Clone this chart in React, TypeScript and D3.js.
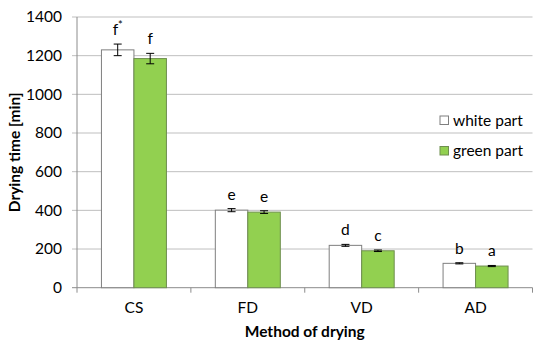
import React from 'react';
import * as d3 from 'd3';

const methods = ['CS', 'FD', 'VD', 'AD'];
const seriesNames = ['white part', 'green part'];
const whiteValues = [1230, 401, 219, 126];
const whiteErrors = [30, 8, 5, 3];
const greenValues = [1185, 391, 191, 112];
const greenErrors = [27, 7, 4, 3];
const whiteLetters = ['f*', 'e', 'd', 'b'];
const greenLetters = ['f', 'e', 'c', 'a'];
const yTicks = [0, 200, 400, 600, 800, 1000, 1200, 1400];

const font = 'Lato, "Open Sans", sans-serif';
const fills = ['#ffffff', '#92d050'];
const strokes = ['#7f7f7f', '#6f8f4f'];

const App = () => {
  const width = 550;
  const height = 351;
  const margin = { top: 17, right: 18, bottom: 63, left: 77 };
  const innerW = 532.5 - margin.left;

  const x = d3.scaleBand<string>()
    .domain(methods)
    .range([margin.left, margin.left + innerW])
    .paddingInner(0)
    .paddingOuter(0);

  const y = d3.scaleLinear()
    .domain([0, 1400])
    .range([287.7, margin.top]);

  const barW = 32.5;
  const offset = (x.bandwidth() - 2 * barW) / 2;

  const series = [
    { values: whiteValues, errors: whiteErrors, letters: whiteLetters },
    { values: greenValues, errors: greenErrors, letters: greenLetters },
  ];

  const x0 = margin.left;
  const x1 = margin.left + innerW;
  const bottom = y(0);

  return (
    <svg width={width} height={height} style={{ position: 'absolute', left: 0, top: 0, background: '#fff' }}>
      {/* gridlines and y ticks */}
      {yTicks.map(t => (
        <g key={t}>
          <line x1={x0 - 5} x2={x1} y1={y(t)} y2={y(t)}
            stroke={t === 0 ? '#8c8c8c' : '#bfbfbf'} strokeWidth={1} />
          <text x={x0 - 15} y={y(t)} dy="0.35em" textAnchor="end"
            fontFamily={font} fontSize={15.5} fill="#000">{t}</text>
        </g>
      ))}
      {/* y axis */}
      <line x1={x0} x2={x0} y1={y(1400)} y2={bottom} stroke="#8c8c8c" />
      {/* x ticks */}
      {[...methods.map(m => x(m) as number), x1].map((p, i) => (
        <line key={i} x1={p} x2={p} y1={bottom} y2={bottom + 5} stroke="#8c8c8c" />
      ))}

      {/* bars */}
      {series.map((s, si) => (
        <g key={si}>
          {methods.map((m, i) => {
            const bx = (x(m) as number) + offset + si * barW;
            const cx = bx + barW / 2;
            const v = s.values[i];
            const e = s.errors[i];
            return (
              <g key={m}>
                <rect x={bx} y={y(v)} width={barW} height={bottom - y(v)}
                  fill={fills[si]} stroke={strokes[si]} strokeWidth={1} />
                <line x1={cx} x2={cx} y1={y(v + e)} y2={y(v - e)} stroke="#000" strokeWidth={1} />
                <line x1={cx - 4} x2={cx + 4} y1={y(v + e)} y2={y(v + e)} stroke="#000" strokeWidth={1} />
                <line x1={cx - 4} x2={cx + 4} y1={y(v - e)} y2={y(v - e)} stroke="#000" strokeWidth={1} />
                <text x={cx} y={y(v + e) - 9} textAnchor="middle" fontFamily={font} fontSize={15.5} fill="#000">
                  {s.letters[i].replace('*', '')}
                  {s.letters[i].includes('*') && <tspan fontSize={11} dy={-6}>*</tspan>}
                </text>
              </g>
            );
          })}
        </g>
      ))}

      {/* category labels */}
      {methods.map(m => (
        <text key={m} x={(x(m) as number) + x.bandwidth() / 2} y={313} textAnchor="middle"
          fontFamily={font} fontSize={15.5} fill="#000">{m}</text>
      ))}

      {/* axis titles */}
      <text x={(x0 + x1) / 2} y={337} textAnchor="middle" fontFamily={font} fontSize={15.5}
        fontWeight="bold" fill="#000">Method of drying</text>
      <text transform={`translate(20,${(y(0) + y(1400)) / 2}) rotate(-90)`} textAnchor="middle"
        fontFamily={font} fontSize={15.5} fontWeight="bold" fill="#000">Drying time [min]</text>

      {/* legend */}
      {seriesNames.map((n, i) => (
        <g key={n} transform={`translate(440,${116 + i * 30.5})`}>
          <rect x={0} y={0} width={8.5} height={8.5} fill={fills[i]} stroke={strokes[i]} />
          <text x={13} y={9.5} fontFamily={font} fontSize={15.5} fill="#000">{n}</text>
        </g>
      ))}
    </svg>
  );
};

export default App;
